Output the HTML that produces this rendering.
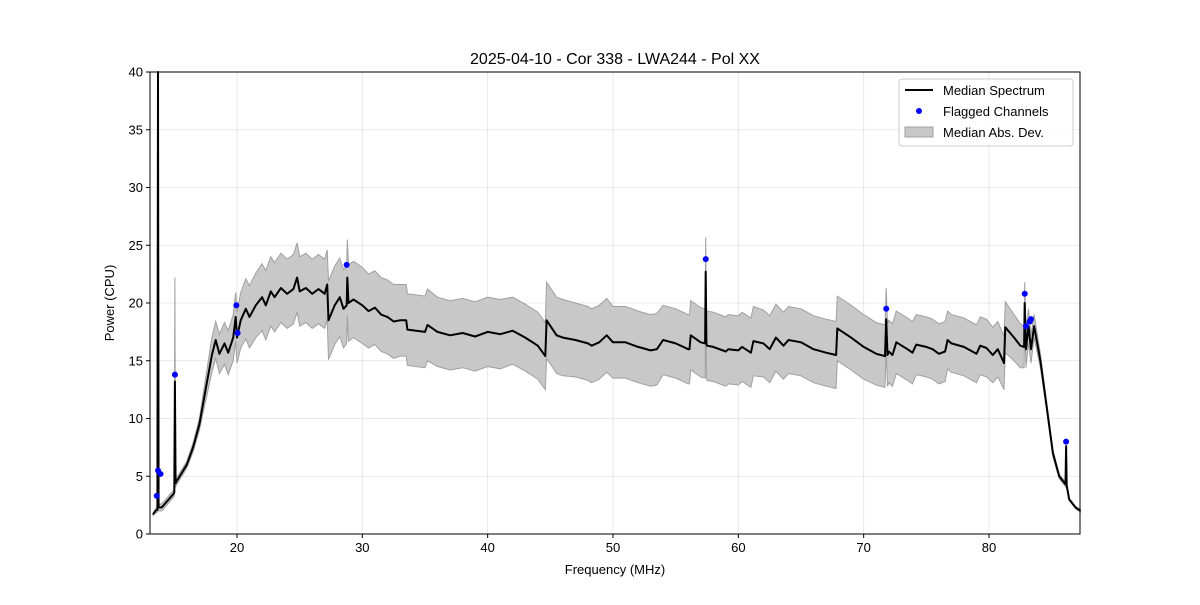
<!DOCTYPE html>
<html><head><meta charset="utf-8"><style>
body{margin:0;background:#fff;}
svg text{font-family:"Liberation Sans","DejaVu Sans",sans-serif;fill:#000;}
</style></head><body>
<svg id="chart" width="1200" height="600" xmlns="http://www.w3.org/2000/svg">
<rect width="1200" height="600" fill="#fff"/>
<g id="grid"></g>
<g id="band"></g>
<g id="line"></g>
<g id="pts"></g>
<rect x="150" y="72" width="930" height="462" fill="none" stroke="#000" stroke-width="1"/>
<g id="ticks"></g>
<text x="615" y="64" font-size="16" text-anchor="middle">2025-04-10 - Cor 338 - LWA244 - Pol XX</text>
<text x="615" y="574" font-size="13" text-anchor="middle">Frequency (MHz)</text>
<text x="114" y="303" font-size="13" text-anchor="middle" transform="rotate(-90 114 303)">Power (CPU)</text>
<g>
<rect x="899" y="79" width="174" height="67" rx="3" fill="#fff" fill-opacity="0.8" stroke="#ccc"/>
<line x1="905" y1="90" x2="933" y2="90" stroke="#000" stroke-width="2"/>
<text x="943" y="95" font-size="13">Median Spectrum</text>
<circle cx="919" cy="111" r="3" fill="#0000ff"/>
<text x="943" y="116" font-size="13">Flagged Channels</text>
<rect x="905" y="127" width="28" height="10" fill="#c8c8c8" stroke="#a0a0a0"/>
<text x="943" y="137" font-size="13">Median Abs. Dev.</text>
</g>
</svg>
<script>
const freqs=[13.3,13.5,13.65,13.7,13.75,14,14.95,15.0,15.05,15.1,15.15,16,16.5,17,17.5,18,18.3,18.6,19,19.3,19.7,19.9,20,20.3,20.7,21,21.5,22,22.3,22.7,23,23.5,24,24.5,24.8,25,25.5,26,26.5,27,27.2,27.3,27.8,28.2,28.5,28.75,28.8,28.9,29.3,30,30.5,31,31.5,32,32.5,33,33.5,33.6,35,35.2,36,37,38,39,40,41,42,43,44,44.6,44.7,45.5,46,47,48,48.3,48.9,49.5,50,51,52,53,53.5,54,55,56,56.1,56.2,57,57.35,57.4,57.45,57.5,58,59,59.2,60,60.3,61,61.2,62,62.5,63,63.6,64,65,66,67,67.8,67.9,69,70,71,71.7,71.8,71.9,72,72.3,72.6,73.5,73.9,74.2,75,75.5,76,76.5,76.7,77,78,79,79.3,79.8,80.3,80.7,81.2,81.3,82,82.5,82.8,82.85,82.95,83.15,83.35,83.6,84.1,84.6,85.1,85.6,86.1,86.15,86.2,86.4,86.9,87.3];
const median=[1.7,2.0,2.1,40,2.3,2.3,3.5,3.6,13.2,4.4,4.5,6,7.5,9.5,12.5,15.5,16.8,15.6,16.5,15.7,17,18.8,17,18.5,19.5,18.8,19.8,20.5,19.8,21.0,20.5,21.3,20.8,21.2,22.2,21,21.3,20.8,21.2,20.8,21.6,18.5,19.8,20.5,19.5,19.8,22.2,20,20.3,19.8,19.3,19.6,19,18.8,18.4,18.5,18.5,17.7,17.5,18.1,17.5,17.2,17.4,17.1,17.5,17.3,17.6,17.0,16.3,15.4,18.5,17.2,17,16.8,16.5,16.3,16.6,17.2,16.6,16.6,16.2,15.9,16.0,16.8,16.5,16.0,16.0,17.2,16.6,16.5,22.7,16.5,16.3,16.2,15.8,16.0,15.9,16.2,15.7,16.7,16.5,16.0,17.0,16.3,16.8,16.6,16.0,15.7,15.5,17.8,17.0,16.2,15.6,15.4,18.6,15.5,15.8,15.5,16.6,16.0,15.7,16.4,16.2,16.0,15.6,15.8,16.8,16.5,16.2,15.6,16.3,16.1,15.5,16.0,14.8,17.9,17,16.3,16.2,20,16,18,16.0,18,15,11,7,5,4.3,7.6,4.2,3,2.3,2.0];
const mad=[0.1,0.2,0.2,0.3,0.3,0.3,0.3,0.3,9,0.3,0.3,0.3,0.4,0.5,1.0,1.5,1.6,1.7,1.8,1.9,2.0,2.1,2.2,2.4,2.6,2.7,2.8,2.9,3.0,3.0,3.0,3.0,3.0,3.0,3.0,3.0,3.0,3.0,3.0,3.0,3.0,3.4,3.4,3.4,3.4,3.3,3.3,3.3,3.3,3.3,3.2,3.2,3.2,3.2,3.2,3.1,3.1,3.1,3.1,3.1,3.0,3.0,3.0,3.0,3.0,3.0,2.9,2.9,2.9,2.9,3.3,3.3,3.3,3.2,3.2,3.2,3.2,3.2,3.1,3.1,3.1,3.1,3.1,3.0,3.0,3.0,3.0,3.0,3.0,3.0,3.0,3.0,3.0,3.0,3.0,3.0,3.0,3.0,3.0,3.0,2.9,2.9,2.9,2.9,2.9,2.9,2.9,2.9,2.9,2.8,2.8,2.8,2.7,2.7,2.7,2.7,2.7,2.7,2.7,2.7,2.7,2.6,2.6,2.6,2.6,2.6,2.5,2.5,2.5,2.5,2.5,2.5,2.4,2.4,2.3,2.2,2.0,1.9,1.8,1.8,1.6,1.5,1.2,1.0,0.6,0.4,0.3,0.2,0.2,0.2,0.2,0.1,0.1,0.1];
const flagFreqs=[13.6,13.7,13.9,15.05,19.95,20.05,28.75,57.4,71.8,82.85,82.95,83.25,83.35,86.15];
const flagVals=[3.3,5.5,5.2,13.8,19.8,17.4,23.3,23.8,19.5,20.8,18.0,18.4,18.6,8.0];
const xTicks=[20,30,40,50,60,70,80];
const yTicks=[0,5,10,15,20,25,30,35,40];

const NS="http://www.w3.org/2000/svg";
const X0=13.06,X1=87.26,Y0=0,Y1=40,L=150,R=1080,T=72,B=534;
const xs=f=>L+(f-X0)/(X1-X0)*(R-L);
const ys=v=>B-(v-Y0)/(Y1-Y0)*(B-T);
function mk(tag,attrs,parent){const e=document.createElementNS(NS,tag);for(const k in attrs)e.setAttribute(k,attrs[k]);parent.appendChild(e);return e;}
const grid=document.getElementById('grid'),ticks=document.getElementById('ticks');
xTicks.forEach(t=>{
  const g=mk('line',{x1:xs(t),x2:xs(t),y1:T,y2:B,stroke:'#b0b0b0','stroke-opacity':0.35,'stroke-width':0.8},grid);
  
  
  const tk=mk('line',{x1:xs(t),x2:xs(t),y1:B,y2:B+4,stroke:'#000'},ticks);
  
  
  const tx=mk('text',{x:xs(t),y:B+18,'font-size':13,'text-anchor':'middle'},ticks);
  tx.textContent=t;
  
  
});
yTicks.forEach(t=>{
  const g=mk('line',{x1:L,x2:R,y1:ys(t),y2:ys(t),stroke:'#b0b0b0','stroke-opacity':0.35,'stroke-width':0.8},grid);
  
  
  const tk=mk('line',{x1:L-4,x2:L,y1:ys(t),y2:ys(t),stroke:'#000'},ticks);
  
  
  const tx=mk('text',{x:L-7,y:ys(t)+4.5,'font-size':13,'text-anchor':'end'},ticks);
  tx.textContent=t;
  
  
});
const clampY=v=>Math.max(T,Math.min(B,ys(v)));
let up=[],lo=[];
freqs.forEach((f,i)=>{up.push(xs(f).toFixed(1)+','+clampY(median[i]+mad[i]).toFixed(1));lo.push(xs(f).toFixed(1)+','+clampY(median[i]-mad[i]).toFixed(1));});
const band=mk('polygon',{points:up.concat(lo.reverse()).join(' '),fill:'#c8c8c8',stroke:'#a0a0a0','stroke-width':1},document.getElementById('band'));


const pl=mk('polyline',{points:freqs.map((f,i)=>xs(f).toFixed(1)+','+clampY(median[i]).toFixed(1)).join(' '),fill:'none',stroke:'#000','stroke-width':2,'stroke-linejoin':'round'},document.getElementById('line'));


flagFreqs.forEach((f,i)=>{
  const c=mk('circle',{cx:xs(f),cy:ys(flagVals[i]),r:3,fill:'#0000ff'},document.getElementById('pts'));
  
  
});
</script>
</body></html>
